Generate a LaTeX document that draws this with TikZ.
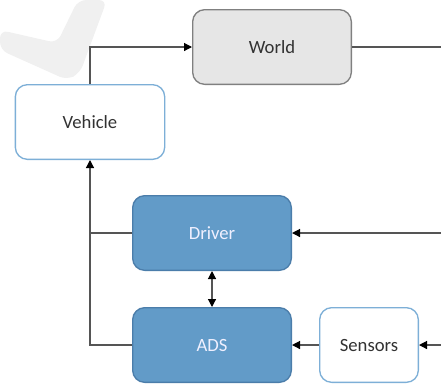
\documentclass[tikz,border=0pt]{standalone}
\usepackage{fontspec}
\setmainfont{Carlito}
\usetikzlibrary{arrows.meta,positioning,calc}
\definecolor{boxblue}{RGB}{98,155,200}
\definecolor{boxblueline}{RGB}{75,125,170}
\definecolor{lightline}{RGB}{125,175,215}
\definecolor{worldgray}{RGB}{230,230,230}
\definecolor{linegray}{RGB}{85,85,85}
\definecolor{textgray}{RGB}{50,50,50}

\begin{document}
\begin{tikzpicture}[
  x=0.75pt, y=-0.75pt,
  box/.style={rectangle, draw, rounded corners=9pt, line width=1pt, inner sep=0pt,
              minimum height=56pt, align=center, font=\fontsize{14}{16}\selectfont},
  arrow/.style={-{Triangle[length=6pt,width=6pt,color=black]}, line width=0.9pt, draw=linegray},
  biarrow/.style={{Triangle[length=6pt,width=6pt,color=black]}-{Triangle[length=6pt,width=6pt,color=black]},
              line width=0.9pt, draw=linegray},
  wire/.style={line width=0.9pt, draw=linegray}
]
\useasboundingbox (0,0) rectangle (441,383);

% Wasserzeichen
\fill[black!6, rounded corners=6pt] (0,30) -- (57,43) -- (78,0) -- (107,0) -- (80,73)
  -- (67,80) -- (0,50) -- cycle;

% Kästen
\node[box, fill=worldgray, draw=black!50, text=textgray, minimum width=119pt] (World) at (272,47) {World};
\node[box, fill=white, draw=lightline, text=textgray, minimum width=112pt] (Vehicle) at (90,122) {Vehicle};
\node[box, fill=boxblue, draw=boxblueline, text=white!94!blue, minimum width=119pt] (Driver) at (212,233) {Driver};
\node[box, fill=boxblue, draw=boxblueline, text=white!94!blue, minimum width=119pt] (ADS) at (212,345) {ADS};
\node[box, fill=white, draw=lightline, text=textgray, minimum width=74pt] (Sensors) at (369,345) {Sensors};

% freie Enden am rechten Rand
\coordinate (outWorld) at (441,47);
\coordinate (inDriver) at (441,233);
\coordinate (inSensors) at (441,345);

% Verbindungen
\draw[arrow] (Vehicle.north) |- (World.west);
\draw[wire] (World.east) -- (outWorld);
\draw[arrow] (inDriver) -- (Driver.east);
\draw[arrow] (inSensors) -- (Sensors.east);
\draw[arrow] (Sensors.west) -- (ADS.east);
\draw[biarrow] (Driver.south) -- (ADS.north);

% Rückführung zum Fahrzeug
\coordinate (join) at (Driver.west -| Vehicle.south);
\draw[wire] (Driver.west) -- (join);
\draw[arrow] (ADS.west) -| (Vehicle.south);

\end{tikzpicture}
\end{document}
